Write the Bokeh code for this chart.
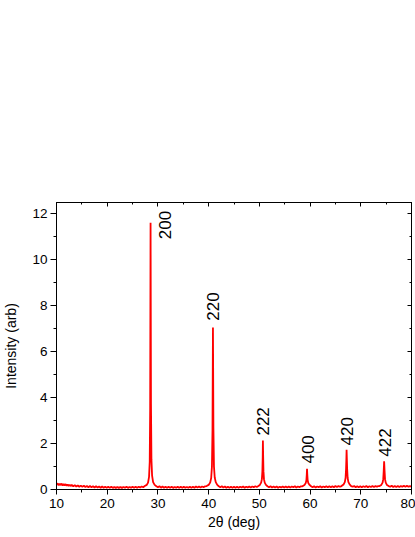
import math
from bokeh.plotting import figure
from bokeh.models import LinearAxis, SingleIntervalTicker, Range1d, ColumnDataSource, CustomLabelingPolicy
from bokeh.core.properties import value
from bokeh.embed import file_html
from bokeh.resources import INLINE

# ---- data: (2theta, intensity) ----
baseline = [
    (10.0, 0.22), (10.2, 0.27), (10.4, 0.18), (10.6, 0.25), (10.8, 0.19), (11.0, 0.26), (11.2, 0.17),
    (11.4, 0.24), (11.6, 0.18), (11.8, 0.23), (12.0, 0.16), (12.2, 0.22), (12.4, 0.15), (12.6, 0.21),
    (12.8, 0.15), (13.0, 0.2), (13.3, 0.14), (13.6, 0.19), (13.9, 0.13), (14.2, 0.18), (14.5, 0.12),
    (14.8, 0.17), (15.1, 0.12), (15.4, 0.16), (15.7, 0.11), (16.0, 0.15), (16.3, 0.1), (16.6, 0.15),
    (16.9, 0.1), (17.2, 0.14), (17.5, 0.09), (17.8, 0.14), (18.1, 0.09), (18.4, 0.13), (18.7, 0.08),
    (19.0, 0.13), (19.3, 0.08), (19.6, 0.12), (19.9, 0.08), (20.2, 0.12), (20.5, 0.07), (20.8, 0.12),
    (21.1, 0.07), (21.4, 0.11), (21.7, 0.07), (22.0, 0.11), (22.3, 0.07), (22.6, 0.11), (22.9, 0.07),
    (23.2, 0.11), (23.5, 0.08), (23.8, 0.12), (24.1, 0.07), (24.4, 0.11), (24.7, 0.08), (25.0, 0.12),
    (25.3, 0.08), (25.6, 0.12), (25.9, 0.08), (26.2, 0.12), (26.5, 0.09), (26.8, 0.13), (27.1, 0.1),
    (30.0, 0.1), (30.3, 0.14), (30.6, 0.08), (30.9, 0.13), (31.2, 0.08), (31.5, 0.12), (31.8, 0.07),
    (32.1, 0.12), (32.4, 0.08), (32.7, 0.12), (33.0, 0.07), (33.3, 0.11), (33.6, 0.08), (33.9, 0.12),
    (34.2, 0.07), (34.5, 0.12), (34.8, 0.08), (35.1, 0.12), (35.4, 0.08), (35.7, 0.11), (36.0, 0.08),
    (36.3, 0.12), (36.6, 0.08), (36.9, 0.12), (37.2, 0.08), (37.5, 0.13), (37.8, 0.09), (38.1, 0.13),
    (38.4, 0.09), (38.7, 0.13), (39.0, 0.1), (39.3, 0.14),
    (42.3, 0.1), (42.6, 0.14), (42.9, 0.09), (43.2, 0.13), (43.5, 0.08), (43.8, 0.12), (44.1, 0.08),
    (44.4, 0.12), (44.7, 0.08), (45.0, 0.12), (45.3, 0.08), (45.6, 0.12), (45.9, 0.08), (46.2, 0.12),
    (46.5, 0.09), (46.8, 0.13), (47.1, 0.08), (47.4, 0.12), (47.7, 0.09), (48.0, 0.13), (48.3, 0.09),
    (48.6, 0.13), (48.9, 0.1), (49.2, 0.14), (49.5, 0.11),
    (51.9, 0.1), (52.2, 0.14), (52.5, 0.09), (52.8, 0.13), (53.1, 0.09), (53.4, 0.13), (53.7, 0.08),
    (54.0, 0.12), (54.3, 0.09), (54.6, 0.13), (54.9, 0.09), (55.2, 0.13), (55.5, 0.09), (55.8, 0.13),
    (56.1, 0.09), (56.4, 0.13), (56.7, 0.1), (57.0, 0.14), (57.3, 0.09), (57.6, 0.13), (57.9, 0.1),
    (58.2, 0.14),
    (60.5, 0.1), (60.8, 0.14), (61.1, 0.09), (61.4, 0.13), (61.7, 0.1), (62.0, 0.14), (62.3, 0.09),
    (62.6, 0.13), (62.9, 0.1), (63.2, 0.14), (63.5, 0.1), (63.8, 0.14), (64.1, 0.1), (64.4, 0.14),
    (64.7, 0.1), (65.0, 0.15), (65.3, 0.11), (65.6, 0.15), (65.9, 0.12),
    (68.4, 0.12), (68.7, 0.15), (69.0, 0.1), (69.3, 0.14), (69.6, 0.1), (69.9, 0.14), (70.2, 0.1),
    (70.5, 0.14), (70.8, 0.11), (71.1, 0.15), (71.4, 0.1), (71.7, 0.14), (72.0, 0.11), (72.3, 0.15),
    (72.6, 0.11), (72.9, 0.15), (73.2, 0.12), (73.45, 0.15),
    (75.8, 0.12), (76.1, 0.16), (76.4, 0.11), (76.7, 0.15), (77.0, 0.11), (77.3, 0.15), (77.6, 0.11),
    (77.9, 0.15), (78.2, 0.12), (78.5, 0.16), (78.8, 0.12), (79.1, 0.16), (79.4, 0.12), (79.7, 0.15),
    (80.0, 0.13),
]

peak_200 = [(27.4, 0.15), (27.8, 0.2), (28.05, 0.3), (28.25, 0.55), (28.38, 1.2), (28.47, 3.5),
            (28.55, 11.62), (28.63, 3.7), (28.72, 1.3), (28.85, 0.6), (29.05, 0.32), (29.35, 0.2),
            (29.7, 0.14)]
peak_220 = [(39.6, 0.15), (40.0, 0.2), (40.3, 0.3), (40.5, 0.5), (40.65, 1.0), (40.76, 2.6),
            (40.85, 7.06), (40.94, 2.7), (41.05, 1.0), (41.2, 0.52), (41.4, 0.32), (41.7, 0.2),
            (42.0, 0.14)]
peak_222 = [(49.8, 0.15), (50.1, 0.2), (50.35, 0.3), (50.5, 0.45), (50.6, 0.8), (50.66, 1.4),
            (50.7, 2.13), (50.75, 1.45), (50.81, 0.8), (50.91, 0.45), (51.06, 0.3), (51.3, 0.2),
            (51.6, 0.14)]
peak_400 = [(58.5, 0.14), (58.9, 0.2), (59.15, 0.28), (59.28, 0.42), (59.35, 0.65), (59.4, 0.9),
            (59.45, 0.65), (59.52, 0.42), (59.65, 0.28), (59.9, 0.2), (60.2, 0.14)]
peak_420 = [(66.2, 0.15), (66.6, 0.22), (66.85, 0.32), (67.0, 0.5), (67.1, 0.9), (67.16, 1.35),
            (67.2, 1.73), (67.25, 1.35), (67.31, 0.9), (67.41, 0.5), (67.56, 0.32), (67.8, 0.22),
            (68.1, 0.15)]
peak_422 = [(73.7, 0.15), (74.05, 0.2), (74.3, 0.3), (74.43, 0.45), (74.52, 0.8), (74.57, 1.05),
            (74.6, 1.23), (74.64, 1.05), (74.69, 0.8), (74.78, 0.45), (74.92, 0.3), (75.15, 0.2),
            (75.5, 0.15)]

label_text = ["200", "220", "222", "400", "420", "422"]
label_x = [31.45, 40.9, 50.75, 59.6, 67.3, 74.8]
label_y = [10.9, 7.35, 2.35, 1.13, 1.92, 1.43]

x_ticks_interval = 10
y_ticks_interval = 2

# merge the pieces into one sorted trace
pts = sorted(baseline + peak_200 + peak_220 + peak_222 + peak_400 + peak_420 + peak_422)
two_theta = [p[0] for p in pts]
intensity = [p[1] for p in pts]

FONT = "Liberation Sans"

p = figure(width=415, height=537, output_backend="svg", toolbar_location=None,
           x_range=Range1d(10, 80), y_range=Range1d(0, 12.5),
           x_axis_location=None, y_axis_location=None,
           min_border_left=55, min_border_right=4, min_border_top=202, min_border_bottom=48)
p.grid.visible = False
p.outline_line_color = "black"
p.outline_line_width = 1
p.background_fill_color = "white"
p.border_fill_color = "white"

xt = SingleIntervalTicker(interval=x_ticks_interval, num_minor_ticks=2)
yt = SingleIntervalTicker(interval=y_ticks_interval, num_minor_ticks=2)

bottom = LinearAxis(ticker=xt, axis_label="2θ (deg)")
left = LinearAxis(ticker=yt, axis_label="Intensity (arb)")
for ax in (bottom, left):
    ax.major_tick_out = 5
    ax.major_tick_in = 0
    ax.minor_tick_out = 3
    ax.minor_tick_in = 0
    ax.major_label_text_font = FONT
    ax.major_label_text_font_size = "13.5px"
    ax.major_label_text_color = "black"
    ax.axis_label_text_font = FONT
    ax.axis_label_text_font_size = "14px"
    ax.axis_label_text_font_style = "normal"
    ax.axis_label_text_color = "black"
    ax.axis_line_color = "black"
    ax.major_tick_line_color = "black"
    ax.minor_tick_line_color = "black"
left.major_tick_out = 6
bottom.major_label_standoff = 4
bottom.axis_label_standoff = 3
left.major_label_standoff = 3
left.axis_label_standoff = 10
p.add_layout(bottom, "below")
p.add_layout(left, "left")

no_labels = CustomLabelingPolicy(code="return new Set()")
top = LinearAxis(ticker=SingleIntervalTicker(interval=x_ticks_interval, num_minor_ticks=2))
right = LinearAxis(ticker=SingleIntervalTicker(interval=y_ticks_interval, num_minor_ticks=2))
for ax in (top, right):
    ax.major_tick_out = 0
    ax.major_tick_in = 4
    ax.minor_tick_out = 0
    ax.minor_tick_in = 2
    ax.major_label_text_font_size = "1px"
    ax.major_label_standoff = 0
    ax.major_label_policy = no_labels
    ax.axis_line_color = "black"
p.add_layout(top, "above")
p.add_layout(right, "right")

p.line(two_theta, intensity, line_color="red", line_width=1.8)

src = ColumnDataSource(dict(x=label_x, y=label_y, t=label_text))
p.text(x="x", y="y", text="t", source=src, angle=math.pi / 2,
       text_align="left", text_baseline="middle",
       text_font=value(FONT), text_font_size=value("17px"), text_color="black")

open("out.html", "w").write(file_html(p, INLINE))
